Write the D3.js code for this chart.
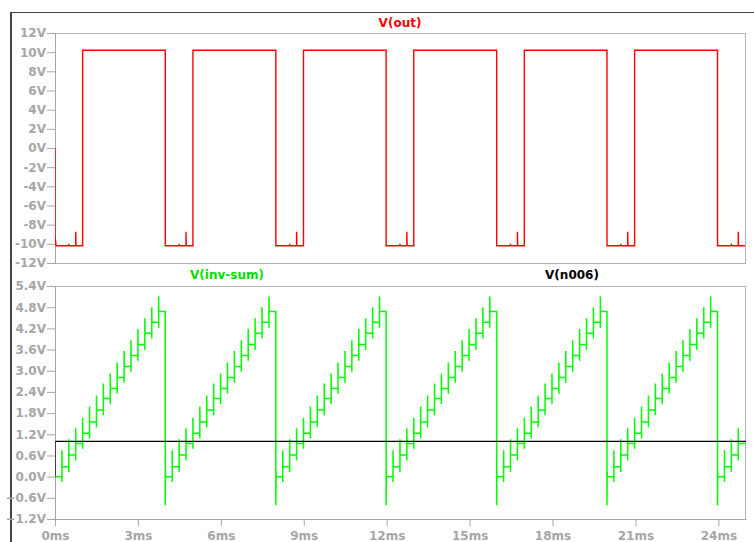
<!DOCTYPE html>
<html>
<head>
<meta charset="utf-8">
<script src="https://cdn.jsdelivr.net/npm/d3@7"></script>
<style>
  body { margin: 0; background: #fff; }
  svg { display: block; }
</style>
</head>
<body>
<script>
// ---- values (ms / volts) ----
const simStop = 24.96;

// reset instants of the staircase = falling edges of V(out)
const periodStarts = [0, 3.99, 7.99, 11.98, 15.98, 19.97, 23.97];

// V(inv-sum) staircase, relative to each period start
const stepOffsets = [0.25, 0.50, 0.75, 1.00, 1.25, 1.50, 1.75, 2.00, 2.25, 2.50, 2.75, 3.00, 3.25, 3.50, 3.75];
const stepLevels  = [0, 0.28, 0.61, 0.94, 1.23, 1.55, 1.89, 2.21, 2.50, 2.81, 3.12, 3.43, 3.74, 4.06, 4.37, 4.68];
const stepPeaks   = [0.75, 1.06, 1.37, 1.67, 1.99, 2.30, 2.64, 2.92, 3.23, 3.56, 3.86, 4.18, 4.49, 4.80, 5.10];
const stepDip = 0.15;
const resetLow = -0.81;
const resetRing = 0.12;

// V(out) square wave
const outHigh = 10.2, outLow = -10.2;
const outStart = [0, -9.2];
const outTick = { at: 0.50, v: -10.0 };
const outSpike = { at: 0.75, v: -8.75 };
const outRise = 1.00;

// V(n006)
const n006Times  = [0, 0, 0.05, 25];
const n006Values = [0, 0.97, 1.0, 1.0];

// axes
const topTicks = [12, 10, 8, 6, 4, 2, 0, -2, -4, -6, -8, -10, -12];
const botTicks = [5.4, 4.8, 4.2, 3.6, 3.0, 2.4, 1.8, 1.2, 0.6, 0.0, -0.6, -1.2];
const xTicks   = [0, 3, 6, 9, 12, 15, 18, 21, 24];

const gray = '#a6a6a6';
const font = '"DejaVu Sans", sans-serif';

let svg = d3.select('body')
  .append('svg')
  .attr('width', 754)
  .attr('height', 542);

// window edge
svg.append('rect').attr('x', 10).attr('y', 12).attr('width', 2).attr('height', 530).attr('fill', '#444');
svg.append('rect').attr('x', 10).attr('y', 12).attr('width', 744).attr('height', 1).attr('fill', '#444');

let x = d3.scaleLinear().domain([0, 25]).range([55, 746]);
let yTop = d3.scaleLinear().domain([-12, 12]).range([263, 33]);
let yBot = d3.scaleLinear().domain([-1.2, 5.4]).range([519, 286]);

// pane frames
[[33.5, 263.5], [286.5, 519.5]].forEach(([t, b]) => {
  svg.append('rect')
    .attr('x', 55.5).attr('y', t)
    .attr('width', 690).attr('height', b - t)
    .attr('fill', 'none')
    .attr('stroke', '#b4b4b4');
});

function styleAxis(g) {
  g.attr('font-family', font).attr('font-size', 12).attr('font-weight', 'bold');
  g.selectAll('path, line').attr('stroke', gray);
  g.selectAll('text').attr('fill', gray);
}

svg.append('g')
  .attr('transform', 'translate(55,0)')
  .call(d3.axisLeft(yTop).tickValues(topTicks).tickSize(8).tickSizeOuter(0).tickPadding(1)
        .tickFormat(d => d + 'V'))
  .call(styleAxis);

svg.append('g')
  .attr('transform', 'translate(55,0)')
  .call(d3.axisLeft(yBot).tickValues(botTicks).tickSize(8).tickSizeOuter(0).tickPadding(1)
        .tickFormat(d => d3.format('.1f')(d) + 'V'))
  .call(styleAxis);

svg.append('g')
  .attr('transform', 'translate(0,519)')
  .call(d3.axisBottom(x).tickValues(xTicks).tickSize(7).tickSizeOuter(0).tickPadding(5)
        .tickFormat(d => d + 'ms'))
  .call(styleAxis);

// ---- build traces ----
let out = [[0, 0], outStart, [0.04, outLow]];
periodStarts.forEach((p, i) => {
  let next = periodStarts[i + 1];
  if (i > 0) {
    out.push([p, outHigh], [p, outLow]);
  }
  [outTick, outSpike].forEach(s => {
    if (p + s.at < simStop) {
      out.push([p + s.at, outLow], [p + s.at, s.v], [p + s.at + 0.01, outLow]);
    }
  });
  if (p + outRise < simStop) {
    out.push([p + outRise, outLow], [p + outRise, outHigh]);
    if (next === undefined) out.push([simStop, outHigh]);
  } else {
    out.push([simStop, outLow]);
  }
});

let invSum = [[0, 0]];
let level = 0;
periodStarts.forEach((p, i) => {
  let next = periodStarts[i + 1];
  stepOffsets.forEach((o, j) => {
    let t = p + o;
    if (t >= simStop || (next !== undefined && t >= next)) return;
    invSum.push([t, stepLevels[j]], [t, stepLevels[j] - stepDip], [t, stepPeaks[j]], [t + 0.005, stepLevels[j + 1]]);
    level = stepLevels[j + 1];
  });
  if (next !== undefined) {
    invSum.push([next, level], [next, resetLow], [next + 0.006, resetRing], [next + 0.012, 0]);
    level = 0;
  } else {
    invSum.push([simStop, level]);
  }
});

let n006 = n006Times.map((t, i) => [t, n006Values[i]]);

// clip to the panes
let defs = svg.append('defs');
defs.append('clipPath').attr('id', 'clipTop')
  .append('rect').attr('x', 55).attr('y', 33).attr('width', 691).attr('height', 231);
defs.append('clipPath').attr('id', 'clipBot')
  .append('rect').attr('x', 55).attr('y', 286).attr('width', 691).attr('height', 234);

let lineTop = d3.line().x(d => x(d[0])).y(d => yTop(d[1]));
let lineBot = d3.line().x(d => x(d[0])).y(d => yBot(d[1]));

svg.append('path')
  .datum(out)
  .attr('clip-path', 'url(#clipTop)')
  .attr('d', lineTop)
  .attr('fill', 'none')
  .attr('stroke', '#ff0000')
  .attr('stroke-width', 1.4);

svg.append('path')
  .datum(invSum)
  .attr('clip-path', 'url(#clipBot)')
  .attr('d', lineBot)
  .attr('fill', 'none')
  .attr('stroke', '#00ff00')
  .attr('stroke-width', 1.5);

svg.append('path')
  .datum(n006)
  .attr('clip-path', 'url(#clipBot)')
  .attr('d', lineBot)
  .attr('fill', 'none')
  .attr('stroke', '#000')
  .attr('stroke-width', 1.2);

// trace names
[['V(out)', 400, 27, '#ff0000'], ['V(inv-sum)', 227, 279, '#00e000'], ['V(n006)', 572, 279, '#000']]
  .forEach(([label, cx, cy, col]) => {
    svg.append('text')
      .attr('x', cx).attr('y', cy)
      .attr('text-anchor', 'middle')
      .attr('font-family', font)
      .attr('font-size', 12)
      .attr('font-weight', 'bold')
      .attr('fill', col)
      .text(label);
  });
</script>
</body>
</html>
